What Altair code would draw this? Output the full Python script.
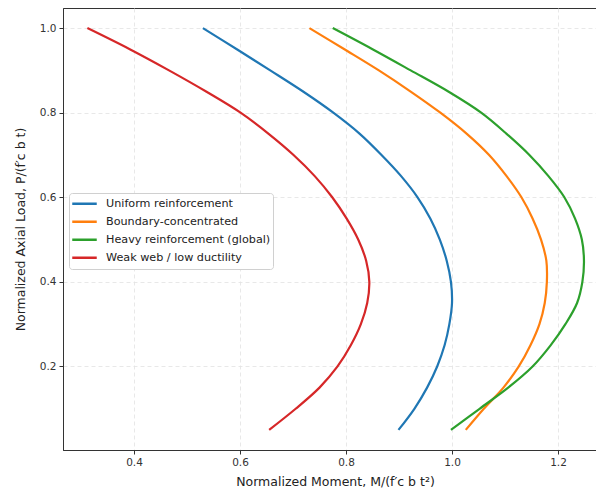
import altair as alt
import pandas as pd

# Axial load levels (shared by all curves)
P_vals = [0.05, 0.10, 0.15, 0.20, 0.25, 0.30, 0.35, 0.40, 0.45, 0.50,
          0.55, 0.60, 0.65, 0.70, 0.75, 0.80, 0.85, 0.90, 0.95, 1.00]

series_names = ["Uniform reinforcement", "Boundary-concentrated",
                "Heavy reinforcement (global)", "Weak web / low ductility"]
series_colors = ["#1f77b4", "#ff7f0e", "#2ca02c", "#d62728"]

M_uniform = [0.899, 0.929, 0.953, 0.972, 0.986, 0.995, 1.000, 0.998, 0.990, 0.977,
             0.959, 0.935, 0.904, 0.867, 0.826, 0.776, 0.719, 0.657, 0.594, 0.530]
M_boundary = [1.026, 1.060, 1.097, 1.126, 1.148, 1.165, 1.175, 1.179, 1.178, 1.168,
              1.152, 1.131, 1.103, 1.070, 1.028, 0.978, 0.922, 0.862, 0.797, 0.731]
M_heavy = [0.998, 1.052, 1.106, 1.152, 1.186, 1.214, 1.236, 1.246, 1.249, 1.245,
           1.232, 1.212, 1.182, 1.146, 1.103, 1.055, 0.993, 0.922, 0.850, 0.775]
M_weak = [0.655, 0.705, 0.750, 0.784, 0.809, 0.828, 0.840, 0.844, 0.838, 0.823,
          0.801, 0.774, 0.741, 0.701, 0.654, 0.601, 0.536, 0.466, 0.392, 0.312]

x_ticks = [0.4, 0.6, 0.8, 1.0, 1.2]
y_ticks = [0.2, 0.4, 0.6, 0.8, 1.0]

rows = []
for name, ms in zip(series_names, [M_uniform, M_boundary, M_heavy, M_weak]):
    for i, (p, m) in enumerate(zip(P_vals, ms)):
        rows.append({"series": name, "M": m, "P": p, "idx": i})
df = pd.DataFrame(rows)

chart = alt.Chart(df).mark_line(strokeWidth=2.2, clip=True,
                                interpolate="catmull-rom").encode(
    x=alt.X("M:Q",
            scale=alt.Scale(domain=[0.266, 1.2717], nice=False, zero=False),
            axis=alt.Axis(values=x_ticks, format=".1f",
                          title="Normalized Moment, M/(f′c b t²)",
                          titlePadding=8, titleX=272)),
    y=alt.Y("P:Q",
            scale=alt.Scale(domain=[0.0025, 1.0475], nice=False, zero=False),
            axis=alt.Axis(values=y_ticks, format=".1f",
                          title="Normalized Axial Load, P/(f′c b t)",
                          titlePadding=12)),
    color=alt.Color("series:N",
                    scale=alt.Scale(domain=series_names, range=series_colors),
                    sort=series_names,
                    legend=alt.Legend(title=None, orient="none",
                                      legendX=6, legendY=185,
                                      symbolType="stroke", symbolSize=600,
                                      symbolStrokeWidth=2.5,
                                      labelFontSize=11.2, labelFont="DejaVu Sans",
                                      labelColor="#222", labelLimit=400,
                                      fillColor="white", strokeColor="#d0d0d0",
                                      padding=2, cornerRadius=3,
                                      rowPadding=0, clipHeight=17.4,
                                      labelOffset=8)),
    order=alt.Order("idx:Q"),
).properties(
    width=533, height=442,
    autosize=alt.AutoSizeParams(type="none"),
    padding={"left": 63, "top": 8, "right": 0, "bottom": 45},
).configure_view(
    stroke="#333", strokeWidth=1
).configure_axis(
    labelFont="DejaVu Sans", titleFont="DejaVu Sans",
    labelFontSize=10.5, titleFontSize=12.5,
    labelColor="#333", titleColor="#222", titleFontWeight="normal",
    tickColor="#333", tickSize=4, domainColor="#333", domainWidth=1,
    gridColor="#e2e2e2", gridDash=[4, 3], gridWidth=0.8,
    labelPadding=3,
)

chart.save("out.html", embed_options={"renderer": "svg", "actions": False})
